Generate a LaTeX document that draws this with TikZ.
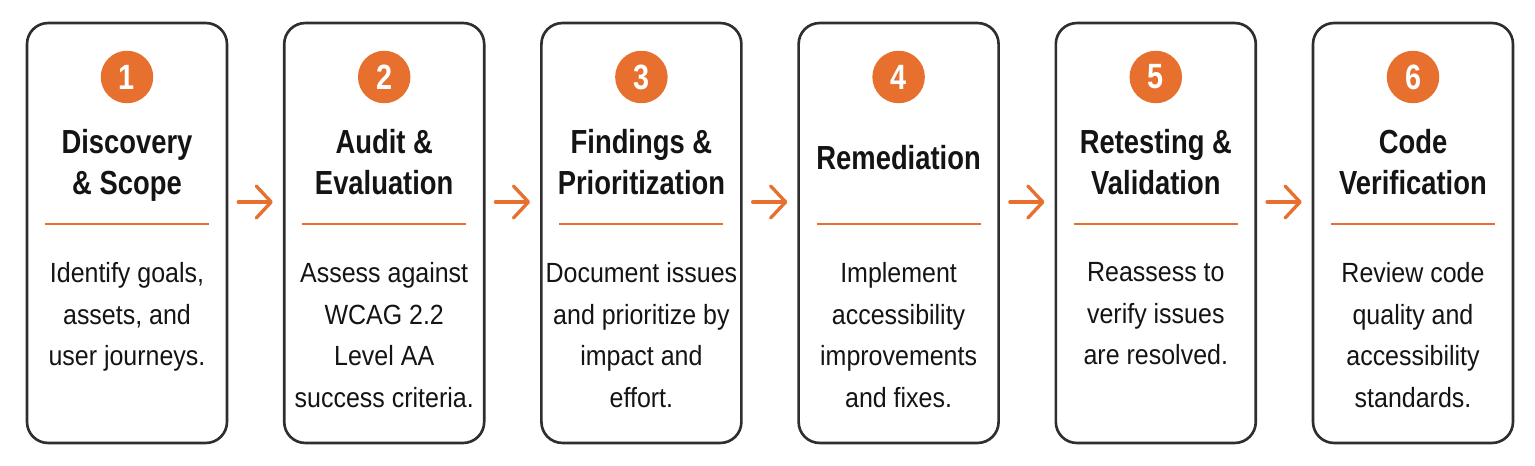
\documentclass[tikz,border=0pt]{standalone}
\usepackage{fontspec}
\setmainfont{Liberation Sans}[FakeStretch=0.9]
\newfontfamily\ttlfont{Liberation Sans}[FakeStretch=0.82]
\usetikzlibrary{arrows.meta}
\definecolor{naranja}{HTML}{E8702E}
\definecolor{borde}{HTML}{2E2E2E}
\definecolor{tinta}{HTML}{141414}
\begin{document}
\begin{tikzpicture}[x=0.02cm,y=-0.02cm,
	stepbox/.style={draw=borde, line width=1.5pt, rounded corners=0.42cm,
		minimum width=4.0cm, minimum height=8.4cm, fill=white},
	numdot/.style={circle, fill=naranja, minimum size=1.05cm, inner sep=0pt,
		text=white, font=\ttlfont\bfseries\fontsize{20}{20}\selectfont},
	ttlnode/.style={anchor=north, align=center, inner sep=0pt, text=tinta,
		execute at begin node=\strut,
		font=\ttlfont\bfseries\fontsize{19}{23.4}\selectfont},
	txtnode/.style={anchor=north, align=center, inner sep=0pt, text=tinta,
		execute at begin node=\strut,
		font=\fontsize{15.8}{23.7}\selectfont},
	regla/.style={draw=naranja, line width=1.2pt},
	flow/.style={draw=naranja, line width=1.9pt, line cap=round,
		-{Straight Barb[round,length=0.3cm,width=0.64cm]},
		shorten <=0.2cm, shorten >=0.2cm}]

\useasboundingbox (0,0) rectangle (1535,466);

% cajas de las etapas
	\foreach \ttl/\ty/\txt [count=\i] in {
		{Discovery\\\& Scope}/129/{Identify goals,\\assets, and\\user journeys.},
		{Audit \&\\Evaluation}/129/{Assess against\\WCAG 2.2\\Level AA\\success criteria.},
		{Findings \&\\Prioritization}/129/{Document issues\\and prioritize by\\impact and\\effort.},
		{Remediation}/140/{Implement\\accessibility\\improvements\\and fixes.},
		{Retesting \&\\Validation}/129/{Reassess to\\verify issues\\are resolved.},
		{Code\\Verification}/129/{Review code\\quality and\\accessibility\\standards.}}
	{
		\pgfmathsetmacro{\cx}{127+257.2*(\i-1)}
		\node[stepbox] (box\i) at (\cx,233) {};
		\node[numdot] (num\i) at (\cx,77) {\i};
		\node[ttlnode] (ttl\i) at (\cx,\ty) {\ttl};
		\draw[regla] (\cx-82,224) -- (\cx+82,224);
		\node[txtnode] (txt\i) at (\cx,262) {\txt};
	}

% flechas
	\foreach \i [evaluate=\i as \j using int(\i+1)] in {1,...,5}
		\draw[flow] ([yshift=0.62cm]box\i.east) -- ([yshift=0.62cm]box\j.west);
\end{tikzpicture}
\end{document}
